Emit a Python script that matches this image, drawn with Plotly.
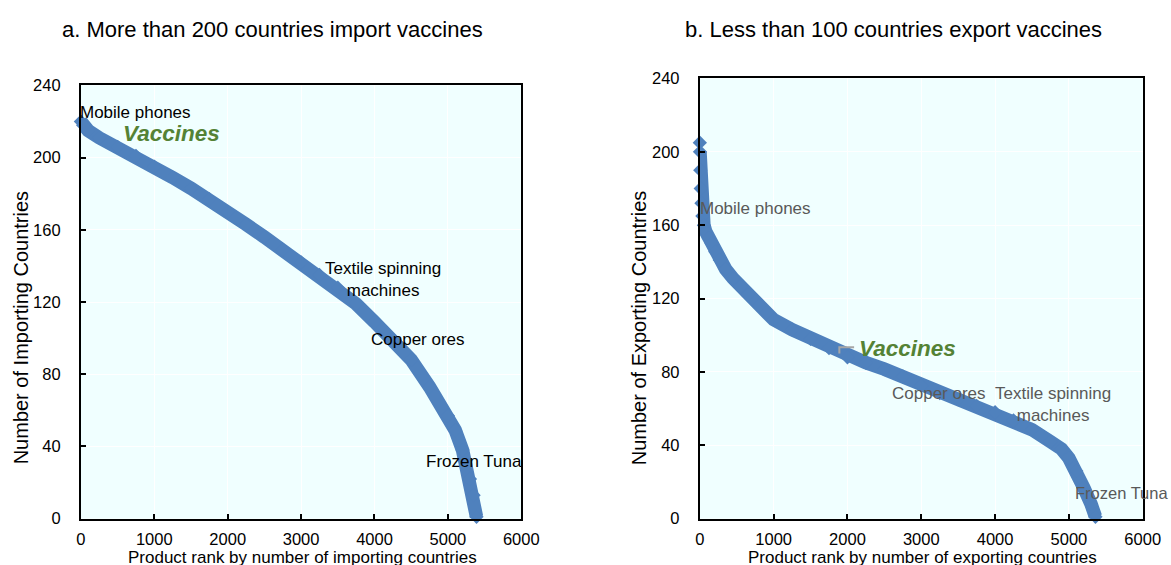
import plotly.graph_objects as go
from plotly.subplots import make_subplots

# Panel a: number of importing countries per product, by product rank
imp_rank = [0, 30, 100, 250, 500, 750, 1000, 1250, 1500, 1750, 2000, 2250, 2500,
            2750, 3000, 3250, 3500, 3750, 4000, 4250, 4500, 4750, 5000, 5100,
            5200, 5300, 5350, 5390]
imp_count = [220, 218, 215, 211, 206, 201, 195, 189, 183, 177, 170, 163, 156,
             149, 142, 135, 128, 119, 109, 99, 88, 73, 57, 49,
             38, 22, 13, 1]

# Panel b: number of exporting countries per product, by product rank
exp_rank = [0, 2, 6, 12, 22, 35, 55, 80, 120, 160, 210, 270, 350, 450, 550, 650,
            800, 1000, 1250, 1500, 1750, 2000, 2250, 2500, 2750, 3000, 3250,
            3500, 3750, 4000, 4250, 4500, 4750, 4900, 5000, 5100, 5200, 5300, 5360]
exp_count = [205, 200, 190, 180, 172, 165, 160, 156.5, 153, 150, 145.5, 141, 136,
             131, 126.5, 122, 116, 108.5, 103, 98, 93, 88, 85, 81.5, 77.5, 72.5,
             68.5, 65, 61.5, 58, 53.5, 48.5, 42, 38, 33, 26, 17, 8, 1]

panel_titles = ["a. More than 200 countries import vaccines",
                "b. Less than 100 countries export vaccines"]
x_titles = ["Product rank by number of importing countries",
            "Product rank by number of exporting countries"]
y_titles = ["Number of Importing Countries", "Number of Exporting Countries"]

x_ticks = [0, 1000, 2000, 3000, 4000, 5000, 6000]
y_ticks = [0, 40, 80, 120, 160, 200, 240]

BLUE = "#4F81BD"
GREEN = "#548235"
FONT = "Liberation Sans, Arial, sans-serif"

# layout positions are given in screen pixels; the page body keeps an 8px
# margin and the view is scaled slightly, so convert to figure fractions
BODY = 8
ZX, ZY = 0.9775, 0.9658
W, H = 1182, 569


def fx(px):
    return (px / ZX - BODY) / W


def fy(py):
    return 1 - (py / ZY - BODY) / H


fig = make_subplots(rows=1, cols=2)

# thick band: line through the points plus diamond markers
fig.add_trace(go.Scatter(x=imp_rank, y=imp_count, mode="lines",
                         line=dict(color=BLUE, width=13.5), cliponaxis=False,
                         hoverinfo="skip"), row=1, col=1)
fig.add_trace(go.Scatter(x=imp_rank, y=imp_count, mode="markers",
                         marker=dict(symbol="diamond", size=11, color=BLUE),
                         cliponaxis=False), row=1, col=1)
fig.add_trace(go.Scatter(x=exp_rank[1:], y=exp_count[1:], mode="lines",
                         line=dict(color=BLUE, width=13.5), cliponaxis=False,
                         hoverinfo="skip"), row=1, col=2)
fig.add_trace(go.Scatter(x=exp_rank, y=exp_count, mode="markers",
                         marker=dict(symbol="diamond", size=11, color=BLUE),
                         cliponaxis=False), row=1, col=2)

axis_common = dict(showline=True, linecolor="black", linewidth=2, mirror=True,
                   ticks="inside", ticklen=5, tickwidth=1.5, tickcolor="black",
                   showgrid=True, gridcolor="white", gridwidth=1, zeroline=False,
                   tickfont=dict(family=FONT, size=16.5, color="black"))

fig.update_xaxes(range=[0, 6000], tickvals=x_ticks, ticklabelstandoff=5, **axis_common)
fig.update_yaxes(range=[0, 240], tickvals=y_ticks, ticklabelstandoff=15, **axis_common)

fig.update_layout(
    width=W, height=H,
    margin=dict(l=0, r=0, t=0, b=0),
    paper_bgcolor="white",
    plot_bgcolor="#F0FFFF",
    showlegend=False,
    font=dict(family=FONT, color="black"),
    xaxis=dict(domain=[fx(83.5), fx(522.5)]),
    yaxis=dict(domain=[fy(516), fy(84)]),
    xaxis2=dict(domain=[fx(700.5), fx(1142)]),
    yaxis2=dict(domain=[fy(516), fy(77)]),
)

ann = []
# panel titles
for xc, t in zip([274, 894], panel_titles):
    ann.append(dict(text=t, xref="paper", yref="paper", x=fx(xc), y=fy(28),
                    xanchor="center", yanchor="middle", showarrow=False,
                    font=dict(size=22, color="black", family=FONT)))
# axis titles
for xc, t in zip([304, 922], x_titles):
    ann.append(dict(text=t, xref="paper", yref="paper", x=fx(xc), y=fy(555),
                    xanchor="center", yanchor="middle", showarrow=False,
                    font=dict(size=17, color="black", family=FONT)))
for xc, t in zip([24, 640], y_titles):
    ann.append(dict(text=t, xref="paper", yref="paper", x=fx(xc), y=fy(326),
                    xanchor="center", yanchor="middle", showarrow=False, textangle=-90,
                    font=dict(size=20, color="black", family=FONT)))

# product labels, panel a
lab_a = dict(size=17, color="black", family=FONT)
ann_a = [
    dict(text="Mobile phones", x=0, y=225, xanchor="left", xshift=-3, font=lab_a),
    dict(text="<b><i>Vaccines</i></b>", x=550, y=213.3, xanchor="left",
         font=dict(size=22.5, color=GREEN, family=FONT)),
    dict(text="Textile spinning<br>machines", x=4110, y=132.5, xanchor="center", font=lab_a),
    dict(text="Copper ores", x=3925, y=99.1, xanchor="left", font=lab_a),
    dict(text="Frozen Tuna", x=4680, y=31.7, xanchor="left", font=lab_a),
]
for a in ann_a:
    a.update(xref="x", yref="y", yanchor="middle", showarrow=False)

# product labels, panel b
lab_b = dict(size=17, color="#595959", family=FONT)
ann_b = [
    dict(text="Mobile phones", x=0, y=169, xanchor="left", xshift=-2, font=lab_b),
    dict(text="<b><i>Vaccines</i></b>", x=2130, y=92.9, xanchor="left",
         font=dict(size=22.5, color=GREEN, family=FONT)),
    dict(text="Copper ores", x=2575, y=68.3, xanchor="left", font=lab_b),
    dict(text="Textile spinning<br>machines", x=4780, y=62.3, xanchor="center", font=lab_b),
    dict(text="Frozen Tuna", x=5060, y=13.7, xanchor="left",
         font=dict(size=16.5, color="#595959", family=FONT)),
]
for a in ann_b:
    a.update(xref="x2", yref="y2", yanchor="middle", showarrow=False)

fig.update_layout(annotations=ann + ann_a + ann_b)

# leader line for the vaccines label in panel b
fig.add_shape(type="path", xref="x2", yref="y2",
              path="M 1890,90 L 1890,93.5 L 2090,93.5",
              line=dict(color="#A6A6A6", width=2))

fig.write_html("out.html")
